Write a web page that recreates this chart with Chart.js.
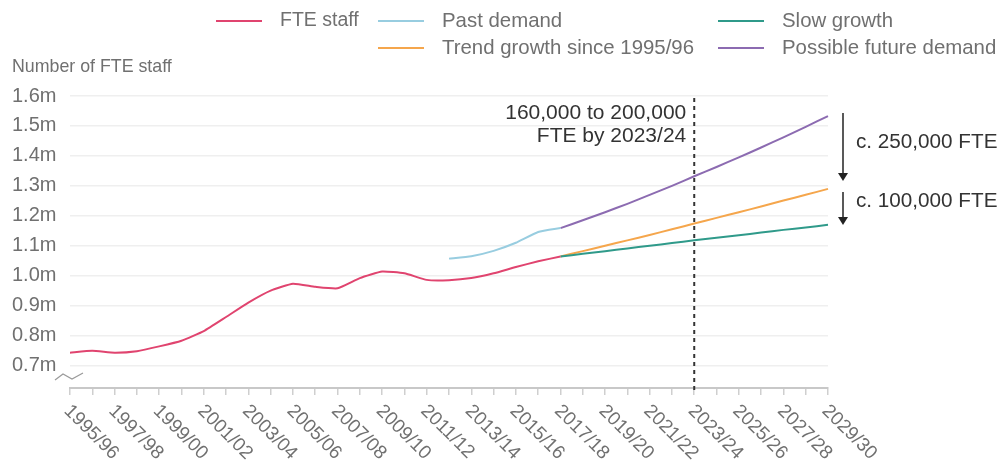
<!DOCTYPE html>
<html>
<head>
<meta charset="utf-8">
<script src="https://cdn.jsdelivr.net/npm/chart.js@4/dist/chart.umd.min.js"></script>
<style>
  html, body { margin: 0; padding: 0; background: #fff; }
  #wrap { width: 1001px; height: 465px; position: relative; }
</style>
</head>
<body>
<div id="wrap"><canvas id="Chart" width="1001" height="465"></canvas></div>
<script>
// Years shown on the x axis (one category per year, labelled every other year)
const years = [
  '1995/96','1996/97','1997/98','1998/99','1999/00','2000/01','2001/02','2002/03',
  '2003/04','2004/05','2005/06','2006/07','2007/08','2008/09','2009/10','2010/11',
  '2011/12','2012/13','2013/14','2014/15','2015/16','2016/17','2017/18','2018/19',
  '2019/20','2020/21','2021/22','2022/23','2023/24','2024/25','2025/26','2026/27',
  '2027/28','2028/29','2029/30'
]
const yTicks = [0.7, 0.8, 0.9, 1.0, 1.1, 1.2, 1.3, 1.4, 1.5, 1.6]

// Values in millions of FTE staff, null where a series has no data
const fteStaff = [
  0.743, 0.749, 0.743, 0.748, 0.764, 0.783, 0.815, 0.862, 0.910, 0.950, 0.973, 0.963,
  0.958, 0.992, 1.014, 1.008, 0.986, 0.985, 0.992, 1.008, 1.029, 1.048, 1.064,
  null, null, null, null, null, null, null, null, null, null, null, null
]
const pastDemand = [
  null, null, null, null, null, null, null, null, null, null, null, null,
  null, null, null, null, null, 1.057, 1.065, 1.083, 1.110, 1.146, 1.159,
  null, null, null, null, null, null, null, null, null, null, null, null
]
const slowGrowth = [
  null, null, null, null, null, null, null, null, null, null, null, null,
  null, null, null, null, null, null, null, null, null, null, 1.064,
  1.073, 1.082, 1.091, 1.100, 1.109, 1.118, 1.127, 1.135, 1.144, 1.153, 1.161, 1.170
]
const trendGrowth = [
  null, null, null, null, null, null, null, null, null, null, null, null,
  null, null, null, null, null, null, null, null, null, null, 1.064,
  1.082, 1.100, 1.118, 1.136, 1.155, 1.174, 1.193, 1.212, 1.231, 1.251, 1.270, 1.290
]
const futureDemand = [
  null, null, null, null, null, null, null, null, null, null, null, null,
  null, null, null, null, null, null, null, null, null, null, 1.159,
  1.185, 1.212, 1.240, 1.270, 1.300, 1.332, 1.363, 1.395, 1.428, 1.462, 1.497, 1.533
]

const fontFamily = '"Liberation Sans", Arial, sans-serif'
const greyText = '#707070'

function line(label, data, color) {
  return {
    label: label,
    data: data,
    borderColor: color,
    backgroundColor: color,
    borderWidth: 2,
    pointRadius: 0,
    tension: 0.15,
    spanGaps: false
  }
}

// Legend in three columns, two rows
const legendSlots = [
  { ds: 0, x: 216, y: 21 },
  { ds: 1, x: 378, y: 21 },
  { ds: 2, x: 718, y: 21 },
  { ds: 3, x: 378, y: 48 },
  { ds: 4, x: 718, y: 48 }
]

const extras = {
  id: 'extras',
  afterDraw(chart) {
    const ctx = chart.ctx
    const xs = chart.scales.x
    const area = chart.chartArea
    ctx.save()

    // legend
    ctx.textBaseline = 'middle'
    ctx.textAlign = 'left'
    legendSlots.forEach(s => {
      const ds = chart.data.datasets[s.ds]
      ctx.strokeStyle = ds.borderColor
      ctx.lineWidth = 2
      ctx.beginPath()
      ctx.moveTo(s.x, s.y)
      ctx.lineTo(s.x + 46, s.y)
      ctx.stroke()
      ctx.fillStyle = greyText
      ctx.font = (s.ds === 0 ? '19.5px ' : '20.4px ') + fontFamily
      ctx.fillText(ds.label, s.x + 64, s.y)
    })

    // axis title
    ctx.font = '17.8px ' + fontFamily
    ctx.fillText('Number of FTE staff', 12, 67)

    // rotated year labels
    ctx.font = '19px ' + fontFamily
    ctx.fillStyle = greyText
    years.forEach((yr, i) => {
      if (i % 2) return
      const px = xs.getPixelForValue(i)
      ctx.save()
      ctx.translate(px - 3, area.bottom + 20)
      ctx.rotate(Math.PI / 4)
      ctx.textAlign = 'left'
      ctx.fillText(yr, 0, 0)
      ctx.restore()
    })

    // axis break mark
    ctx.strokeStyle = '#9a9a9a'
    ctx.lineWidth = 1.2
    ctx.beginPath()
    ctx.moveTo(55, 380)
    ctx.lineTo(63, 374)
    ctx.lineTo(72, 379)
    ctx.lineTo(83, 373)
    ctx.stroke()

    // dashed marker at 2023/24
    const mx = xs.getPixelForValue(years.indexOf('2023/24'))
    ctx.strokeStyle = '#333'
    ctx.lineWidth = 2
    ctx.setLineDash([4, 4])
    ctx.beginPath()
    ctx.moveTo(mx, area.top + 2)
    ctx.lineTo(mx, area.bottom + 5)
    ctx.stroke()
    ctx.setLineDash([])

    ctx.fillStyle = '#333'
    ctx.font = '21px ' + fontFamily
    ctx.textAlign = 'right'
    ctx.fillText('160,000 to 200,000', mx - 8, 113)
    ctx.fillText('FTE by 2023/24', mx - 8, 136)

    // gap arrows on the right
    const ax = 843
    function arrow(y1, y2) {
      ctx.strokeStyle = '#222'
      ctx.lineWidth = 1.5
      ctx.beginPath()
      ctx.moveTo(ax, y1)
      ctx.lineTo(ax, y2 - 6)
      ctx.stroke()
      ctx.fillStyle = '#222'
      ctx.beginPath()
      ctx.moveTo(ax - 5, y2 - 8)
      ctx.lineTo(ax + 5, y2 - 8)
      ctx.lineTo(ax, y2)
      ctx.closePath()
      ctx.fill()
    }
    arrow(113, 181)
    arrow(192, 225)
    ctx.fillStyle = '#333'
    ctx.textAlign = 'left'
    ctx.font = '20.7px ' + fontFamily
    ctx.fillText('c. 250,000 FTE', 856, 142)
    ctx.fillText('c. 100,000 FTE', 856, 201)

    ctx.restore()
  }
}

const ctx = document.getElementById('Chart').getContext('2d')
const myChart = new Chart(ctx, {
  type: 'line',
  data: {
    labels: years,
    datasets: [
      line('FTE staff', fteStaff, '#e0446f'),
      line('Past demand', pastDemand, '#98cde0'),
      line('Slow growth', slowGrowth, '#2f9a8a'),
      line('Trend growth since 1995/96', trendGrowth, '#f5a64c'),
      line('Possible future demand', futureDemand, '#8c6bb1')
    ]
  },
  options: {
    responsive: false,
    animation: false,
    layout: { padding: { left: 12, right: 173, top: 96, bottom: 0 } },
    plugins: {
      legend: { display: false },
      tooltip: { enabled: false }
    },
    scales: {
      x: {
        offset: false,
        ticks: { display: false },
        grid: { drawOnChartArea: false, drawTicks: true, tickLength: 7, color: '#cfcfcf', lineWidth: 1.5 },
        border: { display: true, color: '#c8c8c8', width: 2 },
        afterFit: s => { s.height = 77 }
      },
      y: {
        min: 0.625,
        max: 1.6,
        afterBuildTicks: s => { s.ticks = yTicks.map(v => ({ value: v })) },
        ticks: {
          crossAlign: 'far',
          color: greyText,
          font: { family: fontFamily, size: 20 },
          callback: v => v.toFixed(1) + 'm'
        },
        grid: { drawTicks: false, color: '#efefef', lineWidth: 1.5 },
        border: { display: false },
        afterFit: s => { s.width = 58 }
      }
    }
  },
  plugins: [extras]
})
</script>
</body>
</html>
